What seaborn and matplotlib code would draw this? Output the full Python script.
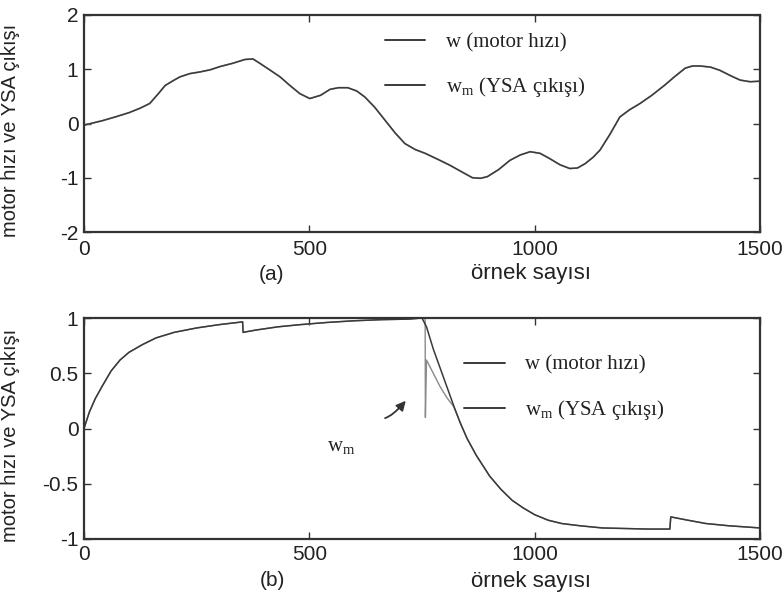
import matplotlib
matplotlib.use("Agg")
import matplotlib.pyplot as plt
import seaborn as sns
import pandas as pd
from matplotlib.lines import Line2D

# ---------------- data ----------------
# (a) top panel: motor speed and ANN output (overlapping)
a_x = [0, 40, 69, 100, 124, 146, 165, 180, 200, 213, 235, 257, 280, 302, 330, 357, 375, 390,
       410, 435, 457, 479, 501, 525, 546, 565, 585, 605, 623, 645, 668, 690, 712, 735, 757,
       785, 812, 840, 862, 880, 895, 920, 945, 968, 990, 1012, 1034, 1056, 1078, 1095, 1112,
       1130, 1145, 1167, 1189, 1210, 1234, 1260, 1289, 1310, 1334, 1350, 1367, 1390, 1411,
       1435, 1456, 1478, 1500]
a_w = [-0.03, 0.05, 0.12, 0.2, 0.28, 0.37, 0.55, 0.70, 0.80, 0.86, 0.92, 0.95, 0.99, 1.05,
       1.11, 1.18, 1.19, 1.11, 1.0, 0.86, 0.70, 0.55, 0.46, 0.52, 0.63, 0.66, 0.66, 0.60,
       0.49, 0.30, 0.06, -0.17, -0.37, -0.48, -0.55, -0.66, -0.77, -0.90, -1.0, -1.01, -0.98,
       -0.85, -0.68, -0.58, -0.52, -0.55, -0.65, -0.76, -0.83, -0.82, -0.74, -0.62, -0.49,
       -0.20, 0.12, 0.25, 0.37, 0.52, 0.71, 0.86, 1.02, 1.06, 1.06, 1.04, 0.98, 0.88, 0.80,
       0.77, 0.78]
a_wm = list(a_w)

# (b) bottom panel
b_x = [0, 12, 25, 40, 60, 80, 100, 130, 160, 200, 250, 300, 352, 353, 380, 430, 480, 540,
       600, 660, 720, 750, 760, 775, 790, 805, 820, 835, 850, 870, 900, 925, 950, 975, 1000,
       1030, 1060, 1100, 1150, 1200, 1250, 1300, 1302, 1340, 1380, 1430, 1500]
b_w = [0.0, 0.15, 0.27, 0.38, 0.52, 0.62, 0.69, 0.76, 0.82, 0.87, 0.91, 0.94, 0.965, 0.87,
       0.89, 0.92, 0.94, 0.96, 0.975, 0.985, 0.99, 1.0, 0.92, 0.72, 0.55, 0.38, 0.21, 0.05,
       -0.09, -0.24, -0.43, -0.55, -0.65, -0.72, -0.78, -0.83, -0.86, -0.88, -0.90, -0.905,
       -0.91, -0.91, -0.80, -0.83, -0.86, -0.88, -0.90]
b_wm_x = [0, 12, 25, 40, 60, 80, 100, 130, 160, 200, 250, 300, 352, 353, 380, 430, 480, 540,
          600, 660, 720, 750, 757, 757.5, 760, 775, 790, 805, 820, 835, 850, 870, 900, 925,
          950, 975, 1000, 1030, 1060, 1100, 1150, 1200, 1250, 1300, 1302, 1340, 1380, 1430,
          1500]
b_wm = [0.0, 0.15, 0.27, 0.38, 0.52, 0.62, 0.69, 0.76, 0.82, 0.87, 0.91, 0.94, 0.965, 0.87,
        0.89, 0.92, 0.94, 0.96, 0.975, 0.985, 0.99, 1.0, 1.0, 0.10, 0.62, 0.50, 0.38, 0.28,
        0.20, 0.05, -0.09, -0.24, -0.43, -0.55, -0.65, -0.72, -0.78, -0.83, -0.86, -0.88,
        -0.90, -0.905, -0.91, -0.91, -0.80, -0.83, -0.86, -0.88, -0.90]

x_ticks = [0, 500, 1000, 1500]
a_yticks = [-2, -1, 0, 1, 2]
b_yticks = [-1, -0.5, 0, 0.5, 1]
b_ytick_labels = ["-1", "-0.5", "0", "0.5", "1"]

ylabel = "motor hızı ve YSA çıkışı"
xlabel = "örnek sayısı"
leg_w = "w (motor hızı)"
leg_wm = r"$\mathregular{w_m}$ (YSA çıkışı)"

# ---------------- style ----------------
sns.set_theme(style="ticks")
plt.rcParams["font.family"] = ["Liberation Sans", "DejaVu Sans"]
plt.rcParams["mathtext.fontset"] = "custom"
plt.rcParams["mathtext.rm"] = "Liberation Serif"
plt.rcParams["mathtext.it"] = "Liberation Serif:italic"

ink = "#333333"
curve_w = "#3a3a3a"
curve_wm = "#8a8a8a"
serif = {"family": ["Liberation Serif", "DejaVu Serif"], "size": 15}

fig = plt.figure(figsize=(7.83, 5.97), dpi=100)
fig.patch.set_facecolor("white")
W, H = 783, 597


def axes_px(left, top, right, bottom):
    return fig.add_axes([left / W, 1 - bottom / H, (right - left) / W, (bottom - top) / H])


ax1 = axes_px(84, 15, 760, 232)
ax2 = axes_px(84, 318, 760, 539)

df_a = pd.DataFrame({"x": a_x, "w": a_w, "wm": a_wm})
sns.lineplot(data=df_a, x="x", y="wm", ax=ax1, color=curve_wm, lw=1.3, sort=False)
sns.lineplot(data=df_a, x="x", y="w", ax=ax1, color=curve_w, lw=1.0, sort=False)

df_bw = pd.DataFrame({"x": b_x, "y": b_w})
df_bm = pd.DataFrame({"x": b_wm_x, "y": b_wm})
sns.lineplot(data=df_bm, x="x", y="y", ax=ax2, color=curve_wm, lw=1.0, sort=False)
sns.lineplot(data=df_bw, x="x", y="y", ax=ax2, color=curve_w, lw=1.1, sort=False)

for ax, yt, yl, ylim, xpad in [(ax1, a_yticks, [str(v) for v in a_yticks], (-2, 2), 6),
                               (ax2, b_yticks, b_ytick_labels, (-1, 1), 4)]:
    ax.set_xlim(0, 1500)
    ax.set_ylim(*ylim)
    ax.set_xticks(x_ticks)
    ax.set_xticklabels([str(v) for v in x_ticks])
    ax.set_yticks(yt)
    ax.set_yticklabels(yl)
    ax.tick_params(direction="in", length=5, width=1, colors=ink, labelsize=15,
                   top=True, right=True, pad=4)
    ax.tick_params(axis="x", pad=xpad)
    for lab in ax.get_xticklabels() + ax.get_yticklabels():
        lab.set_color("#222222")
    for s in ax.spines.values():
        s.set_linewidth(1.6)
        s.set_color(ink)
        s.set_visible(True)
    ax.set_ylabel(ylabel, fontsize=14.5, color="#222222")
    ax.set_xlabel("")
    ax.set_facecolor("white")

ax1.yaxis.set_label_coords(-0.095, 0.47)
ax2.yaxis.set_label_coords(-0.095, 0.47)

# x labels
fig.text(531 / W, 1 - 274 / H, xlabel, fontsize=16, color="#222222", ha="center", va="center")
fig.text(272 / W, 1 - 275 / H, "(a)", fontsize=15, color="#222222", ha="center", va="center")
fig.text(531 / W, 1 - 581 / H, xlabel, fontsize=16, color="#222222", ha="center", va="center")
fig.text(272 / W, 1 - 581 / H, "(b)", fontsize=15, color="#222222", ha="center", va="center")

# legends
handles = [Line2D([], [], color=curve_w, lw=1.4), Line2D([], [], color=curve_w, lw=1.4)]
for ax, x0, yc in [(ax1, 0.445, 0.765), (ax2, 0.562, 0.68)]:
    leg = ax.legend(handles, [leg_w, leg_wm], loc="center left", bbox_to_anchor=(x0, yc),
                    frameon=False, prop=serif, handlelength=1.95, handletextpad=1.0,
                    labelspacing=1.12, borderpad=0, borderaxespad=0)
    for t in leg.get_texts():
        t.set_color("#222222")

# annotation in (b)
ax2.annotate("", xy=(718, 0.27), xytext=(662, 0.09),
             arrowprops=dict(arrowstyle="-|>", color=ink, lw=1.3,
                             connectionstyle="angle3,angleA=0,angleB=50",
                             mutation_scale=14))
ax2.text(570, -0.16, r"$\mathregular{w_m}$", fontdict=serif, color="#222222",
         ha="center", va="center")

fig.savefig("out.png", dpi=100, facecolor="white")
